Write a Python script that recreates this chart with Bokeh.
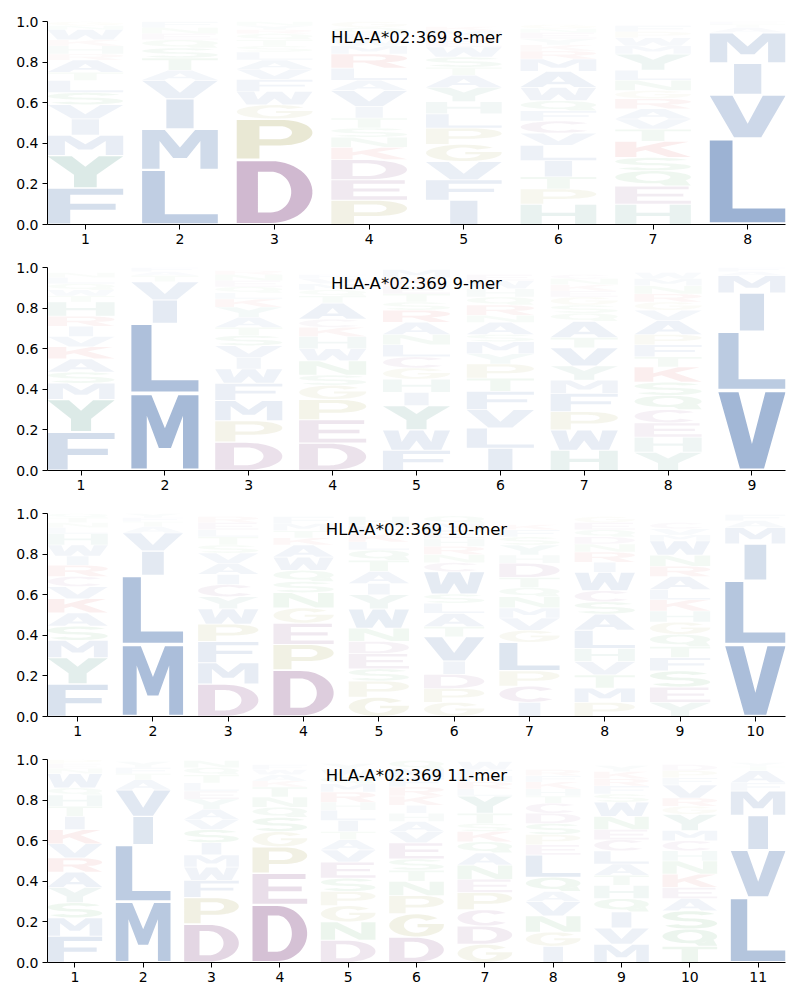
import numpy as np
from bokeh.plotting import figure
from bokeh.models import ColumnDataSource, Range1d, FixedTicker, PrintfTickFormatter, Label
from bokeh.layouts import column
from bokeh.embed import file_html
from bokeh.resources import INLINE

ALLELE = "HLA-A*02:369"

# ---- data: per position, letters from bottom to top and their heights ----
mer8_letters = ["FYMIVSLTARHKWNG", "LMIVATSQENF", "DPGWFVALSTQRYN", "PEDKNSTIVALRMWFQG",
                "IFVGPLHYATSWERMK", "HPTILVCFQWAMRKYENG", "HEQSKTVARGNLYMWPF", "LVIMATF"]
mer8_heights = [
    [.18, .16, .10, .08, .07, .06, .06, .04, .06, .03, .04, .03, .05, .02, .02],
    [.27, .20, .15, .09, .05, .06, .05, .04, .03, .03, .03],
    [.32, .20, .07, .065, .06, .05, .045, .04, .03, .03, .03, .02, .02, .02],
    [.12, .10, .10, .06, .05, .045, .05, .055, .08, .05, .06, .07, .04, .03, .03, .03, .03],
    [.12, .10, .09, .085, .08, .07, .06, .07, .06, .04, .05, .05, .03, .02, .03, .02],
    [.10, .075, .06, .08, .075, .06, .06, .05, .05, .065, .08, .06, .04, .03, .03, .03, .02, .02],
    [.10, .09, .075, .065, .08, .06, .05, .05, .05, .04, .05, .05, .08, .04, .04, .03, .03],
    [.425, .215, .155, .15, .025, .015, .015],
]

mer9_letters = ["FYMSAKVIRHTWQLN", "MLIVTAF", "DPMFWIVSTAYKLQENR", "DEPGSNWHKCATQMVF",
                "FWYIHGCLNARSTEKM", "ILVFTPYMSANRQHWE", "HWPFMYVTAQSGEKNC",
                "YHECQSKTFPAVGRNMW", "VLIMAF"]
mer9_heights = [
    [.19, .16, .08, .055, .065, .06, .05, .05, .05, .07, .03, .03, .03, .03, .025],
    [.38, .345, .115, .09, .03, .02, .02],
    [.14, .105, .10, .085, .07, .055, .06, .05, .04, .05, .05, .04, .03, .03, .03, .03, .02],
    [.135, .115, .10, .07, .05, .07, .06, .06, .045, .04, .08, .035, .03, .03, .025, .02],
    [.10, .10, .12, .065, .065, .055, .055, .06, .05, .06, .06, .04, .04, .04, .04, .04],
    [.11, .10, .09, .09, .065, .07, .05, .06, .035, .06, .035, .05, .04, .04, .04, .03],
    [.10, .10, .09, .09, .065, .07, .09, .05, .08, .04, .04, .04, .03, .03, .03, .02],
    [.09, .075, .07, .065, .07, .065, .075, .05, .06, .05, .07, .05, .04, .04, .04, .035, .03],
    [.395, .29, .19, .085, .02, .02],
]

mer10_letters = ["FYMSAKVCRIWHLNTQ", "MLIVATFY", "DMFPWYCIAVSTLER", "DPEGNSQWAKTMF",
                 "GPSEDNWYIATQLKFH", "GPDIVTALSWCNRHEMQ", "ICPLGVMNQTDHYSFK",
                 "PMTVHLASCWIRNDQEG", "YESFTQGHKLARNWMVC", "VLIMAF"]
mer10_heights = [
    [.16, .13, .085, .07, .065, .07, .06, .05, .055, .045, .055, .055, .03, .025, .025, .02],
    [.355, .34, .12, .09, .03, .025, .02, .02],
    [.16, .105, .105, .085, .075, .06, .06, .05, .055, .05, .04, .04, .035, .035, .03],
    [.23, .125, .105, .075, .075, .055, .055, .065, .06, .035, .035, .035, .035],
    [.095, .08, .06, .075, .06, .065, .095, .07, .055, .06, .055, .05, .04, .04, .04, .045],
    [.07, .068, .07, .065, .12, .05, .065, .05, .045, .11, .045, .04, .04, .04, .04, .035, .035],
    [.07, .08, .075, .14, .06, .06, .05, .055, .045, .05, .07, .04, .05, .04, .035, .025],
    [.07, .07, .065, .065, .065, .09, .08, .06, .055, .09, .05, .05, .04, .035, .035, .035, .03],
    [.07, .075, .08, .065, .055, .06, .06, .055, .055, .05, .065, .05, .055, .07, .03, .03, .03],
    [.355, .315, .18, .08, .035, .03],
]

mer11_letters = ["FMSYARVKITHQWNEP", "MLIVATFY", "DPFWMISVAYELTQN", "DEPGSQNTKAWF",
                 "DNGPSEVATILHRMQWY", "DGPNTSEVAHIKRFMQ", "GDCPENAQKSTYLRMFW",
                 "IGNVAQLEPSDCTHKFR", "MVIQHTALCENWSFRKY", "TQSAEKNHCMYGRVFPD", "LVIMFATY"]
mer11_heights = [
    [.13, .09, .075, .075, .075, .07, .07, .07, .065, .05, .055, .035, .07, .025, .025, .02],
    [.30, .28, .14, .13, .05, .03, .03, .03],
    [.19, .13, .085, .065, .06, .06, .065, .05, .05, .05, .04, .04, .04, .035, .035],
    [.285, .155, .13, .075, .07, .05, .05, .05, .03, .03, .025, .025],
    [.11, .09, .08, .07, .065, .08, .06, .05, .04, .055, .05, .04, .05, .04, .035, .035, .03],
    [.125, .115, .09, .07, .055, .055, .08, .055, .05, .04, .04, .045, .045, .045, .045, .04],
    [.09, .09, .08, .085, .065, .07, .06, .055, .05, .04, .05, .085, .035, .035, .03, .03, .04],
    [.08, .07, .08, .07, .05, .07, .11, .05, .05, .055, .05, .05, .035, .035, .035, .03, .03],
    [.09, .08, .08, .065, .065, .05, .055, .065, .055, .05, .065, .07, .04, .04, .035, .035, .03],
    [.08, .085, .09, .06, .055, .065, .065, .05, .05, .05, .08, .04, .04, .065, .035, .035, .03],
    [.32, .235, .17, .12, .04, .06, .02, .02],
]

panels = [(8, mer8_letters, mer8_heights), (9, mer9_letters, mer9_heights),
          (10, mer10_letters, mer10_heights), (11, mer11_letters, mer11_heights)]

# ---- colours by residue group ----
GROUP_COLORS = {
    "hydrophobic": "#2a5aa0",
    "acidic": "#7a3a7a",
    "special": "#9a983a",
    "basic": "#cc3333",
    "polar": "#3a9a4a",
    "aromatic_polar": "#3a8a78",
}
GROUPS = {
    "hydrophobic": "AFILMVW",
    "acidic": "DEC",
    "special": "PG",
    "basic": "KR",
    "polar": "STNQ",
    "aromatic_polar": "HY",
}
AA_COLOR = {aa: GROUP_COLORS[g] for g, aas in GROUPS.items() for aa in aas}


# ---- letter outlines in a unit box ----
def arc(cx, cy, rx, ry, a0, a1, n=28):
    t = np.radians(np.linspace(a0, a1, n))
    return list(zip(cx + rx * np.cos(t), cy + ry * np.sin(t)))


def build_shapes():
    S = {}
    S["A"] = [[[(0, 0), (.29, 0), (.35, .19), (.65, .19), (.71, 0), (1, 0), (.66, 1), (.34, 1)],
               [(.41, .35), (.59, .35), (.5, .7)]]]
    S["C"] = [[arc(.5, .5, .5, .5, 40, 320) + arc(.5, .5, .23, .33, 320, 40)]]
    S["D"] = [[[(0, 0), (.45, 0)] + arc(.45, .5, .55, .5, -90, 90) + [(0, 1)],
               [(.28, .17), (.45, .17)] + arc(.45, .5, .27, .33, -90, 90) + [(.28, .83)]]]
    S["E"] = [[[(0, 0), (1, 0), (1, .17), (.29, .17), (.29, .42), (.9, .42), (.9, .58), (.29, .58),
                (.29, .83), (.97, .83), (.97, 1), (0, 1)]]]
    S["F"] = [[[(0, 0), (.3, 0), (.3, .4), (.9, .4), (.9, .57), (.3, .57), (.3, .83), (1, .83),
                (1, 1), (0, 1)]]]
    th = np.degrees(np.arcsin((.42 - .5) / .33)) + 360
    S["G"] = [[arc(.5, .5, .5, .5, 40, 360) + [(1, .56), (.52, .56), (.52, .42)]
               + arc(.5, .5, .23, .33, th, 40)]]
    S["H"] = [[[(0, 0), (.28, 0), (.28, .42), (.72, .42), (.72, 0), (1, 0), (1, 1), (.72, 1),
                (.72, .58), (.28, .58), (.28, 1), (0, 1)]]]
    S["I"] = [[[(.32, 0), (.68, 0), (.68, 1), (.32, 1)]]]
    S["K"] = [[[(0, 0), (.28, 0), (.28, .33), (.4, .46), (.7, 0), (1, 0), (.6, .62), (.97, 1),
                (.65, 1), (.28, .6), (.28, 1), (0, 1)]]]
    S["L"] = [[[(0, 0), (1, 0), (1, .17), (.3, .17), (.3, 1), (0, 1)]]]
    S["M"] = [[[(0, 0), (.23, 0), (.23, .72), (.41, .28), (.59, .28), (.77, .72), (.77, 0), (1, 0),
                (1, 1), (.7, 1), (.5, .55), (.3, 1), (0, 1)]]]
    S["N"] = [[[(0, 0), (.26, 0), (.26, .66), (.7, 0), (1, 0), (1, 1), (.74, 1), (.74, .34),
                (.3, 1), (0, 1)]]]
    S["P"] = [[[(0, 0), (.3, 0), (.3, .34), (.58, .34)] + arc(.58, .67, .42, .33, -90, 90) + [(0, 1)],
               [(.3, .5), (.56, .5)] + arc(.56, .67, .17, .17, -90, 90) + [(.3, .84)]]]
    S["Q"] = [[arc(.5, .58, .5, .42, 0, 360, 48)[:-1], arc(.5, .58, .23, .26, 0, 360, 40)[:-1]],
              [[(.66, 0), (1, 0)] + arc(.5, .58, .5, .42, -30, -80, 10)]]
    S["R"] = [[[(0, 0), (.29, 0), (.29, .4), (.44, .4), (.7, 0), (1, 0), (.72, .44)]
               + arc(.58, .7, .42, .3, -60, 90) + [(0, 1)],
               [(.29, .55), (.56, .55)] + arc(.56, .7, .16, .15, -90, 90) + [(.29, .85)]]]
    S["S"] = [[arc(.5, .7075, .5, .2925, 25, 270) + arc(.5, .2925, .23, .1225, 90, -155)
               + arc(.5, .2925, .5, .2925, -155, 90) + arc(.5, .7075, .23, .1225, 270, 25)]]
    S["T"] = [[[(.35, 0), (.65, 0), (.65, .83), (1, .83), (1, 1), (0, 1), (0, .83), (.35, .83)]]]
    S["V"] = [[[(.32, 0), (.68, 0), (1, 1), (.7, 1), (.5, .32), (.3, 1), (0, 1)]]]
    S["W"] = [[[(.13, 0), (.39, 0), (.5, .48), (.61, 0), (.87, 0), (1, 1), (.77, 1), (.72, .4),
                (.6, 1), (.4, 1), (.28, .4), (.23, 1), (0, 1)]]]
    S["Y"] = [[[(.35, 0), (.65, 0), (.65, .4), (1, 1), (.68, 1), (.5, .66), (.32, 1), (0, 1),
                (.35, .4)]]]
    return S


SHAPES = build_shapes()
GLYPH_WIDTH = 0.8


def make_panel(n, letters, heights):
    xs, ys, colors, alphas = [], [], [], []
    for i, (lets, hs) in enumerate(zip(letters, heights)):
        cx = i + 1
        base = 0.0
        for ch, h in zip(lets, hs):
            pad = 0.025 * h
            y0, y1 = base + pad, base + h - pad
            x0, x1 = cx - GLYPH_WIDTH / 2, cx + GLYPH_WIDTH / 2
            gx, gy = [], []
            for poly in SHAPES[ch]:
                px, py = [], []
                for ring in poly:
                    u = np.array([q[0] for q in ring], dtype=float)
                    v = np.array([q[1] for q in ring], dtype=float)
                    px.append(list(x0 + u * (x1 - x0)))
                    py.append(list(y0 + v * (y1 - y0)))
                gx.append(px)
                gy.append(py)
            xs.append(gx)
            ys.append(gy)
            colors.append(AA_COLOR[ch])
            alphas.append(min(1.0, 1.1 * h))
            base += h
    src = ColumnDataSource(dict(xs=xs, ys=ys, color=colors, alpha=alphas))

    p = figure(width=800, height=246, x_range=Range1d(0.6, n + 0.4), y_range=Range1d(0, 1),
               output_backend="svg", toolbar_location=None,
               min_border_left=47, min_border_right=15, min_border_top=21, min_border_bottom=22)
    p.multi_polygons(xs="xs", ys="ys", fill_color="color", fill_alpha="alpha",
                     line_color=None, source=src)
    p.outline_line_color = None
    p.xgrid.visible = False
    p.ygrid.visible = False
    p.background_fill_color = "white"
    p.border_fill_color = "white"
    p.xaxis.ticker = FixedTicker(ticks=list(range(1, n + 1)))
    p.yaxis.ticker = FixedTicker(ticks=[0, 0.2, 0.4, 0.6, 0.8, 1.0])
    p.yaxis.formatter = PrintfTickFormatter(format="%.1f")
    for ax in p.axis:
        ax.axis_line_color = "black"
        ax.major_tick_line_color = "black"
        ax.major_tick_out = 5
        ax.major_tick_in = 0
        ax.minor_tick_line_color = None
        ax.major_label_text_font = "DejaVu Sans"
        ax.major_label_text_font_size = "14px"
        ax.major_label_text_color = "black"
        ax.major_label_standoff = 4
    p.add_layout(Label(x=(n + 1) / 2, y=0.92, text=f"{ALLELE} {n}-mer", text_align="center",
                       text_baseline="middle", text_font="DejaVu Sans",
                       text_font_size="16.5px", text_color="black"))
    return p


figs = [make_panel(n, L, H) for n, L, H in panels]
layout = column(*figs, spacing=0)
open("out.html", "w").write(file_html(layout, INLINE))
